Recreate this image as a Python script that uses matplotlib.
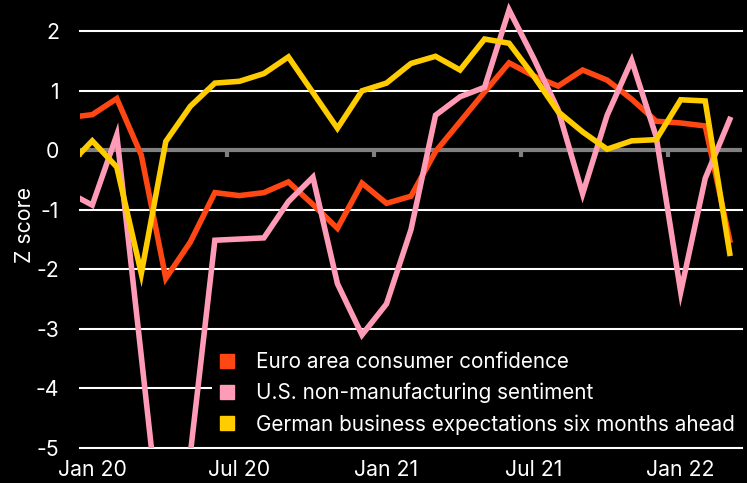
import matplotlib
matplotlib.use("Agg")
import matplotlib.pyplot as plt
from matplotlib.lines import Line2D
import numpy as np

plt.rcParams['font.family'] = ['Inter', 'DejaVu Sans']
plt.rcParams['axes.unicode_minus'] = False

# Monthly observations, Dec 2019 .. Mar 2022 (plotted mid-month)
months = ["Dec 19", "Jan 20", "Feb 20", "Mar 20", "Apr 20", "May 20", "Jun 20", "Jul 20",
          "Aug 20", "Sep 20", "Oct 20", "Nov 20", "Dec 20", "Jan 21", "Feb 21", "Mar 21",
          "Apr 21", "May 21", "Jun 21", "Jul 21", "Aug 21", "Sep 21", "Oct 21", "Nov 21",
          "Dec 21", "Jan 22", "Feb 22", "Mar 22"]

euro_consumer = [0.55, 0.60, 0.87, -0.08, -2.15, -1.54, -0.71, -0.76,
                 -0.71, -0.53, -0.91, -1.31, -0.55, -0.89, -0.77, -0.02,
                 0.48, 0.98, 1.47, 1.25, 1.08, 1.35, 1.18, 0.86,
                 0.49, 0.46, 0.41, -1.51]
us_nonmfg = [-0.70, -0.92, 0.26, -3.46, -7.20, -5.10, -1.51, -1.49,
             -1.47, -0.86, -0.45, -2.24, -3.10, -2.58, -1.33, 0.59,
             0.90, 1.06, 2.36, 1.55, 0.68, -0.73, 0.59, 1.51,
             0.23, -2.38, -0.47, 0.52]
german_expect = [-0.27, 0.16, -0.28, -2.07, 0.15, 0.74, 1.13, 1.16,
                 1.29, 1.57, 0.97, 0.37, 1.00, 1.13, 1.46, 1.58,
                 1.35, 1.87, 1.80, 1.25, 0.65, 0.31, 0.02, 0.16,
                 0.18, 0.85, 0.83, -1.73]

series_names = ["Euro area consumer confidence",
                "U.S. non-manufacturing sentiment",
                "German business expectations six months ahead"]
colors = ["#FF4713", "#FF9BB6", "#FFCC00"]

tick_labels = ["Jan 20", "Jul 20", "Jan 21", "Jul 21", "Jan 22"]
tick_months = [0, 6, 12, 18, 24]          # month boundaries (Jan 2020 = 0)
y_ticks = [2, 1, 0, -1, -2, -3, -4, -5]

W, H = 747, 483
fig = plt.figure(figsize=(W / 100, H / 100), dpi=100, facecolor="black")
ax = fig.add_axes([80 / W, (H - 448) / H, (742 - 80) / W, 448 / H])
ax.set_facecolor("black")

x = np.arange(len(months)) - 1 + 0.5

ax.set_xlim(0, 27)
ax.set_ylim(-5, 2.526)

for yv in y_ticks:
    if yv != 0:
        ax.axhline(yv, color="white", lw=1.5, zorder=1, clip_on=False)
ax.axhline(0, color="#808080", lw=3, zorder=1)
ax.vlines(tick_months, -0.11, 0, color="#808080", lw=3, zorder=1)

for vals, c in zip([euro_consumer, us_nonmfg, german_expect], colors):
    ax.plot(x, vals, color=c, lw=4, zorder=3, solid_joinstyle="miter")

fs = 15.3
ax.set_yticks(y_ticks)
ax.set_yticklabels([str(v) for v in y_ticks])
ax.set_xticks([m + 0.5 for m in tick_months])
ax.set_xticklabels(tick_labels)
ax.tick_params(axis="y", length=0, pad=15, labelsize=fs, labelcolor="white")
ax.tick_params(axis="x", length=0, pad=9, labelsize=fs, labelcolor="white")
for s in ax.spines.values():
    s.set_visible(False)

fig.text(25 / W, 1 - 225 / H, "Z score", rotation=90, color="white", fontsize=fs,
         ha="center", va="center")

lfs = 14.9
handles = [Line2D([], [], marker="s", linestyle="none", markersize=9.4,
                  markerfacecolor=c, markeredgecolor=c) for c in colors]
leg = fig.legend(handles, series_names, loc="upper left",
                 bbox_to_anchor=(212 / W, 1 - 346 / H, (747 - 212) / W, 0),
                 mode="expand", frameon=True,
                 fontsize=lfs, labelcolor="white", handlelength=0.82,
                 handletextpad=1.0, labelspacing=0.52, borderpad=0.3,
                 borderaxespad=0)
leg.get_frame().set_facecolor("black")
leg.get_frame().set_edgecolor("none")
leg.get_frame().set_alpha(1)
leg.set_zorder(5)

fig.savefig("out.png", dpi=100, facecolor="black")
